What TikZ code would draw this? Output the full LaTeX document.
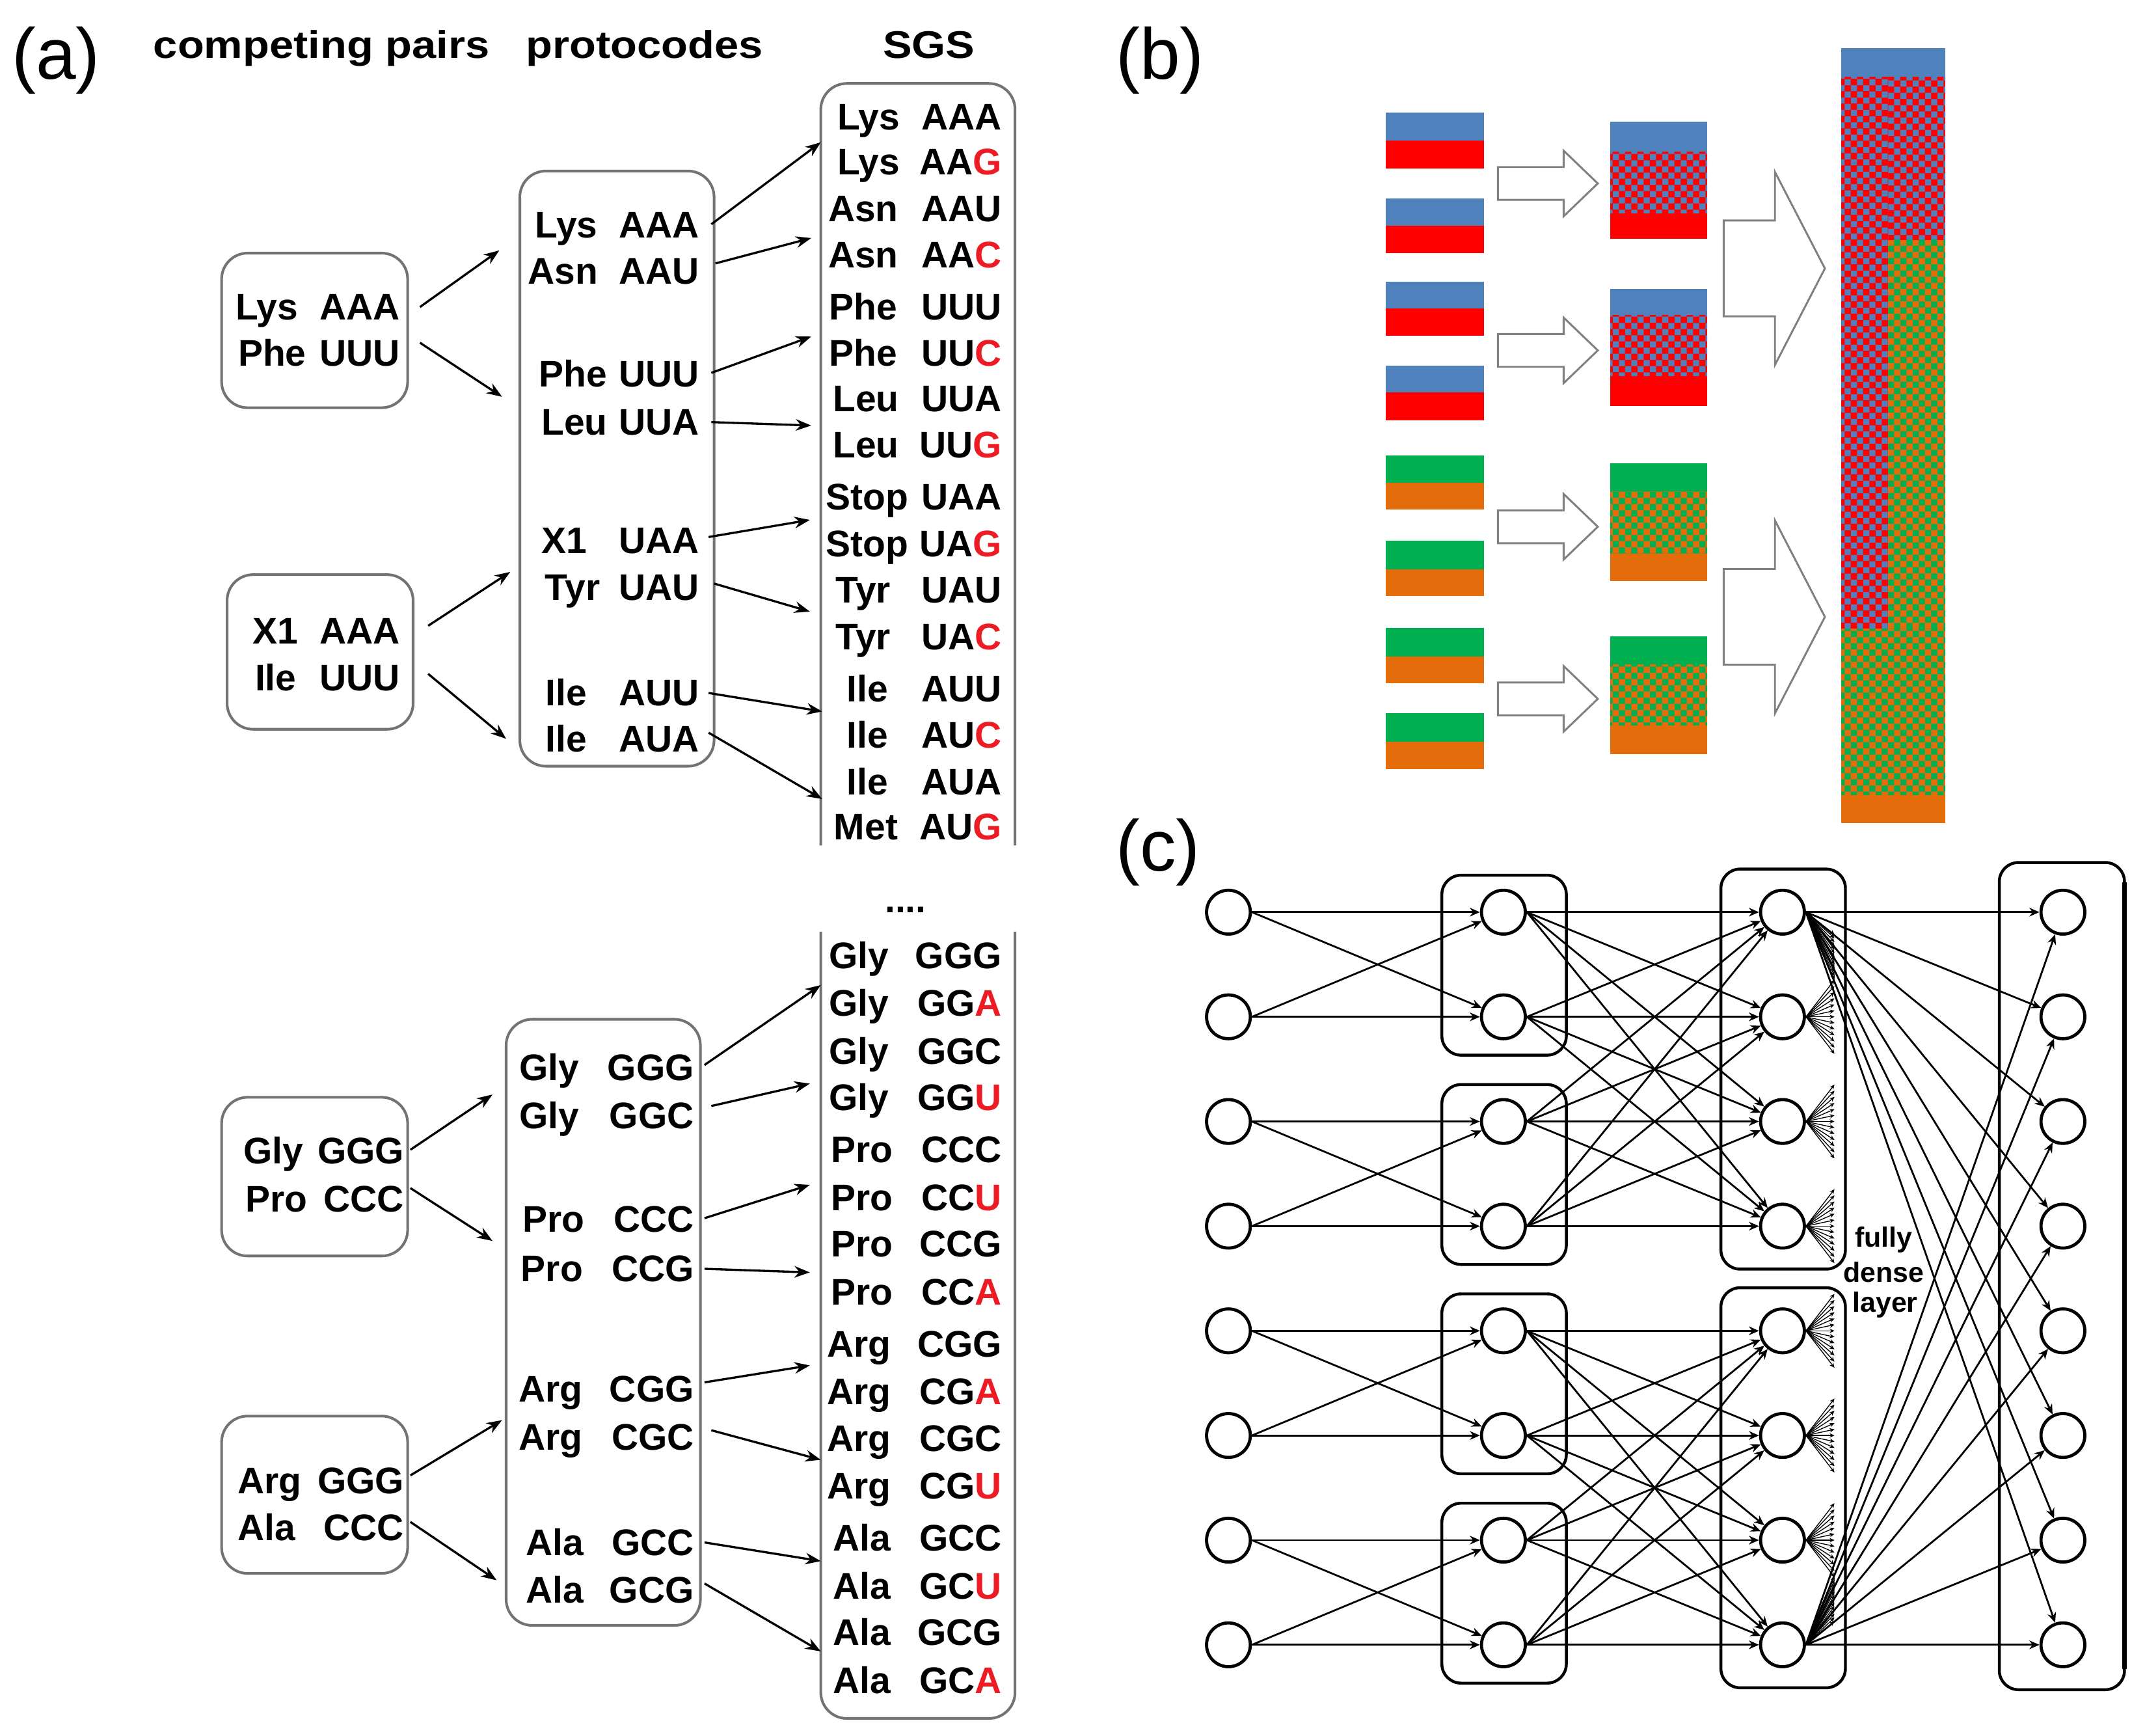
\documentclass[tikz,border=0pt]{standalone}
\usepackage{graphicx}
\usepackage{fontspec}
\setmainfont{Liberation Sans}
\usetikzlibrary{arrows.meta,patterns}
\definecolor{bblue}{RGB}{79,129,189}
\definecolor{bred}{RGB}{255,0,0}
\definecolor{bgreen}{RGB}{0,176,80}
\definecolor{borange}{RGB}{228,108,10}
\definecolor{sred}{RGB}{237,28,36}
\pgfdeclarepatternformonly{fchecker}{\pgfpointorigin}{\pgfqpoint{2.6pt}{2.6pt}}{\pgfqpoint{2.6pt}{2.6pt}}{%
  \pgfpathrectangle{\pgfpointorigin}{\pgfqpoint{1.3pt}{1.3pt}}%
  \pgfpathrectangle{\pgfqpoint{1.3pt}{1.3pt}}{\pgfqpoint{1.3pt}{1.3pt}}%
  \pgfusepath{fill}}
\newcommand{\rd}[1]{\textcolor{sred}{#1}}
\newcommand{\trow}[6]{%
  \node[txt] (#1a) at (#2,#4+9.7) {#5};
  \node[txt,anchor=base east] (#1) at (#3,#4+9.7) {#6};}
\newcommand{\bbar}[5]{%
  \fill[#4] (1013,#1) rectangle (1085,#2);
  \fill[#5] (1013,#2) rectangle (1085,#3);}
\newcommand{\bsq}[6]{%
  \fill[#5] (1177,#1) rectangle (1248,#2);
  \fill[#6] (1177,#2) rectangle (1248,#4);
  \fill[pattern=fchecker,pattern color=#5] (1177,#2) rectangle (1248,#3);}
\newcommand{\sarrow}[1]{\draw[barrow] (1095,#1-12) -- (1143,#1-12) -- (1143,#1-24) -- (1168,#1) -- (1143,#1+24) -- (1143,#1+12) -- (1095,#1+12) -- cycle;}
\newcommand{\bigarrow}[1]{\draw[barrow] (1260,#1-35) -- (1297.5,#1-35) -- (1297.5,#1-70.5) -- (1334,#1) -- (1297.5,#1+70.5) -- (1297.5,#1+35) -- (1260,#1+35) -- cycle;}
\begin{document}
\begin{tikzpicture}[x=0.01cm,y=-0.01cm,
  txt/.style={font=\fontsize{7.7}{9}\selectfont\bfseries, inner sep=0pt, anchor=base},
  hdr/.style={font=\fontsize{8}{10}\selectfont\bfseries, inner sep=0pt, anchor=base},
  lbl/.style={font=\fontsize{15}{18}\selectfont, inner sep=0pt, anchor=base west},
  fdl/.style={font=\fontsize{5.8}{7}\selectfont\bfseries, inner sep=0pt, anchor=base},
  abox/.style={draw=black!55, line width=0.55pt, rounded corners=0.19cm},
  aarr/.style={-{Stealth[length=3.2pt,width=2.4pt]}, line width=0.45pt},
  cbox/.style={draw, line width=0.6pt, rounded corners=0.14cm},
  neur/.style={circle, draw, line width=0.65pt, minimum size=0.32cm, inner sep=0pt, fill=white},
  carr/.style={-{Stealth[length=2.1pt,width=1.8pt]}, line width=0.38pt},
  fanl/.style={-{Stealth[length=1pt,width=0.9pt]}, line width=0.18pt},
  barrow/.style={draw=black!50, fill=white, line width=0.4pt}]
\useasboundingbox (0,0) rectangle (1568,1268.4);

% ---------------- panel labels
\node[lbl] (la) at (8,57.6) {(a)};
\node[lbl] (lb) at (815,57.6) {(b)};
\node[lbl] (lc) at (815,636.6) {(c)};

% ---------------- panel (a) headers
\node[hdr] (h1) at (235,42.4) {\scalebox{1.13}[1]{competing pairs}};
\node[hdr] (h2) at (471,42.4) {\scalebox{1.13}[1]{protocodes}};
\node[hdr] (h3) at (679,42.4) {\scalebox{1.13}[1]{SGS}};

% ---------------- boxes (a)
\draw[abox] (162,185) rectangle (298,298);
\draw[abox] (166,420) rectangle (302,533);
\draw[abox] (162,802) rectangle (298,918);
\draw[abox] (162,1035) rectangle (298,1150);
\draw[abox] (380,125) rectangle (522,560);
\draw[abox] (370,745) rectangle (512,1188);
\draw[abox] (600,618) -- (600,61) -- (742,61) -- (742,618);
\draw[abox] (600,681) -- (600,1256) -- (742,1256) -- (742,681);
\node[txt] (dots) at (662,667) {....};

% competing pairs
\trow{k1}{195}{293}{224}{Lys}{AAA}
\trow{k2}{199}{293}{258}{Phe}{UUU}
\trow{k3}{201.5}{293}{461}{X1}{AAA}
\trow{k4}{201.5}{293}{495}{Ile}{UUU}
\trow{k5}{200}{296}{841}{Gly}{GGG}
\trow{k6}{202}{296}{876}{Pro}{CCC}
\trow{k7}{197}{296}{1082}{Arg}{GGG}
\trow{k8}{195}{296}{1116}{Ala}{CCC}

% protocodes
\trow{p1}{414}{512}{164}{Lys}{AAA}
\trow{p2}{411.5}{512}{198}{Asn}{AAU}
\trow{p3}{419}{512}{273}{Phe}{UUU}
\trow{p4}{420}{512}{308}{Leu}{UUA}
\trow{p5}{412.5}{512}{395}{X1}{UAA}
\trow{p6}{418.5}{512}{429}{Tyr}{UAU}
\trow{p7}{414}{512}{506}{Ile}{AUU}
\trow{p8}{414}{512}{540}{Ile}{AUA}
\trow{p9}{401.5}{508}{780}{Gly}{GGG}
\trow{p10}{401.5}{508}{815}{Gly}{GGC}
\trow{p11}{404.5}{508}{891}{Pro}{CCC}
\trow{p12}{403.5}{508}{927}{Pro}{CCG}
\trow{p13}{402.5}{508}{1015}{Arg}{CGG}
\trow{p14}{402.5}{508}{1050}{Arg}{CGC}
\trow{p15}{405.5}{508}{1127}{Ala}{GCC}
\trow{p16}{405.5}{508}{1162}{Ala}{GCG}

% SGS
\trow{s1}{635}{733}{85}{Lys}{AAA}
\trow{s2}{635}{733}{118}{Lys}{AA\rd{G}}
\trow{s3}{631}{733}{152}{Asn}{AAU}
\trow{s4}{631}{733}{186}{Asn}{AA\rd{C}}
\trow{s5}{631}{733}{224}{Phe}{UUU}
\trow{s6}{631}{733}{258}{Phe}{UU\rd{C}}
\trow{s7}{633}{733}{291}{Leu}{UUA}
\trow{s8}{633}{733}{325}{Leu}{UU\rd{G}}
\trow{s9}{634}{733}{363}{Stop}{UAA}
\trow{s10}{634}{733}{397}{Stop}{UA\rd{G}}
\trow{s11}{631}{733}{431}{Tyr}{UAU}
\trow{s12}{631}{733}{465}{Tyr}{UA\rd{C}}
\trow{s13}{634}{733}{503}{Ile}{AUU}
\trow{s14}{634}{733}{537}{Ile}{AU\rd{C}}
\trow{s15}{634}{733}{571}{Ile}{AUA}
\trow{s16}{633}{733}{604}{Met}{AU\rd{G}}
\trow{s17}{628}{733}{698}{Gly}{GGG}
\trow{s18}{628}{733}{733}{Gly}{GG\rd{A}}
\trow{s19}{628}{733}{768}{Gly}{GGC}
\trow{s20}{628}{733}{802}{Gly}{GG\rd{U}}
\trow{s21}{630}{733}{840}{Pro}{CCC}
\trow{s22}{630}{733}{875}{Pro}{CC\rd{U}}
\trow{s23}{630}{733}{909}{Pro}{CCG}
\trow{s24}{630}{733}{944}{Pro}{CC\rd{A}}
\trow{s25}{628}{733}{982}{Arg}{CGG}
\trow{s26}{628}{733}{1017}{Arg}{CG\rd{A}}
\trow{s27}{628}{733}{1051}{Arg}{CGC}
\trow{s28}{628}{733}{1086}{Arg}{CG\rd{U}}
\trow{s29}{630}{733}{1124}{Ala}{GCC}
\trow{s30}{630}{733}{1159}{Ala}{GC\rd{U}}
\trow{s31}{630}{733}{1193}{Ala}{GCG}
\trow{s32}{630}{733}{1228}{Ala}{GC\rd{A}}

% arrow end coordinates
\coordinate (e1) at (365,183);  \coordinate (e2) at (367,290);
\coordinate (e3) at (373,418);  \coordinate (e4) at (370,540);
\coordinate (e5) at (360,800);  \coordinate (e6) at (360,907);
\coordinate (e7) at (367,1038); \coordinate (e8) at (363,1155);
\coordinate (t1) at (600,104);  \coordinate (t2) at (593,174);
\coordinate (t3) at (593,246);  \coordinate (t4) at (593,311);
\coordinate (t5) at (592,380);  \coordinate (t6) at (592,447);
\coordinate (t7) at (601,520);  \coordinate (t8) at (601,584);
\coordinate (t9) at (600,720);  \coordinate (t10) at (592,792);
\coordinate (t11) at (592,866); \coordinate (t12) at (592,930);
\coordinate (t13) at (592,998); \coordinate (t14) at (600,1067);
\coordinate (t15) at (600,1141);\coordinate (t16) at (600,1207);

\draw[aarr] ([shift={(14,0)}]k1.east) -- (e1);
\draw[aarr] ([shift={(14,-8)}]k2.east) -- (e2);
\draw[aarr] ([shift={(20,-4)}]k3.east) -- (e3);
\draw[aarr] ([shift={(20,-3)}]k4.east) -- (e4);
\draw[aarr] ([shift={(4,-1)}]k5.east) -- (e5);
\draw[aarr] ([shift={(4,-8)}]k6.east) -- (e6);
\draw[aarr] ([shift={(4,-4)}]k7.east) -- (e7);
\draw[aarr] ([shift={(4,-4)}]k8.east) -- (e8);

\draw[aarr] ([shift={(8,-0.5)}]p1.east) -- (t1);
\draw[aarr] ([shift={(11,-6)}]p2.east) -- (t2);
\draw[aarr] ([shift={(8,-1)}]p3.east) -- (t3);
\draw[aarr] ([shift={(8,0)}]p4.east) -- (t4);
\draw[aarr] ([shift={(6,-3)}]p5.east) -- (t5);
\draw[aarr] ([shift={(10,-3)}]p6.east) -- (t6);
\draw[aarr] ([shift={(6,0)}]p7.east) -- (t7);
\draw[aarr] ([shift={(6,-5)}]p8.east) -- (t8);
\draw[aarr] ([shift={(7,-2)}]p9.east) -- (t9);
\draw[aarr] ([shift={(12,-7)}]p10.east) -- (t10);
\draw[aarr] ([shift={(7,-1)}]p11.east) -- (t11);
\draw[aarr] ([shift={(7,0)}]p12.east) -- (t12);
\draw[aarr] ([shift={(7,-5)}]p13.east) -- (t13);
\draw[aarr] ([shift={(12,-5)}]p14.east) -- (t14);
\draw[aarr] ([shift={(7,0)}]p15.east) -- (t15);
\draw[aarr] ([shift={(7,-5)}]p16.east) -- (t16);

% ---------------- panel (b)
\bbar{82.5}{102.6}{123.1}{bblue}{bred}
\bbar{145.1}{164.8}{184.9}{bblue}{bred}
\bbar{205.7}{225.4}{245.5}{bblue}{bred}
\bbar{267.1}{286.8}{307.3}{bblue}{bred}
\bbar{332.7}{352.7}{372.5}{bgreen}{borange}
\bbar{395.2}{416}{435.8}{bgreen}{borange}
\bbar{458.9}{479.7}{499.4}{bgreen}{borange}
\bbar{521.4}{542.2}{562}{bgreen}{borange}

\bsq{89}{111}{155.7}{174.6}{bblue}{bred}
\bsq{211}{230.3}{274.7}{296.7}{bblue}{bred}
\bsq{338.4}{359.2}{404.7}{424.8}{bgreen}{borange}
\bsq{465.3}{485.4}{529.8}{551.4}{bgreen}{borange}

\sarrow{134.1}
\sarrow{256.1}
\sarrow{385}
\sarrow{510.8}
\bigarrow{196.2}
\bigarrow{450.9}

% tall bar
\fill[bblue] (1346,35.2) rectangle (1422,56);
\fill[bred] (1346,56) rectangle (1380.3,459.6);
\fill[bred] (1380.3,56) rectangle (1422,175.4);
\fill[pattern=fchecker,pattern color=bblue] (1346,56) rectangle (1380.3,459.6);
\fill[pattern=fchecker,pattern color=bblue] (1380.3,56) rectangle (1422,175.4);
\fill[borange] (1380.3,175.4) rectangle (1422,459.6);
\fill[borange] (1346,459.6) rectangle (1422,581);
\fill[pattern=fchecker,pattern color=bgreen] (1380.3,175.4) rectangle (1422,459.6);
\fill[pattern=fchecker,pattern color=bgreen] (1346,459.6) rectangle (1422,581);
\fill[borange] (1346,581) rectangle (1422,601.8);

% ---------------- panel (c)
\draw[cbox] (1054,639.7) rectangle (1145,771.2);
\draw[cbox] (1054,792.7) rectangle (1145,924.2);
\draw[cbox] (1054,945.7) rectangle (1145,1077.2);
\draw[cbox] (1054,1098.7) rectangle (1145,1230.2);
\draw[cbox] (1258,635.2) rectangle (1349,927.6);
\draw[cbox] (1258,941.2) rectangle (1349,1233.6);
\draw[cbox] (1461.5,630.4) rectangle (1553,1235);
\draw[line width=0.9pt] (1553,645) -- (1553,1220);

\foreach \k in {1,...,8}{
  \pgfmathsetmacro\yy{666.7+76.5*(\k-1)}
  \node[neur] (a\k) at (898,\yy) {};
  \node[neur] (b\k) at (1099,\yy) {};
  \node[neur] (c\k) at (1303,\yy) {};
  \node[neur] (d\k) at (1508,\yy) {};
}
\foreach \p in {1,3,5,7}{
  \pgfmathtruncatemacro\q{\p+1}
  \draw[carr] (a\p.east) -- (b\p);
  \draw[carr] (a\p.east) -- (b\q);
  \draw[carr] (a\q.east) -- (b\p);
  \draw[carr] (a\q.east) -- (b\q);
}
\foreach \i in {1,...,4}{\foreach \j in {1,...,4}{\draw[carr] (b\i.east) -- (c\j);}}
\foreach \i in {5,...,8}{\foreach \j in {5,...,8}{\draw[carr] (b\i.east) -- (c\j);}}
\foreach \j in {1,...,8}{
  \draw[carr] (c1.east) -- (d\j);
  \draw[carr] (c8.east) -- (d\j);
}
% dense fans
\foreach \k in {2,...,7}{
  \pgfmathsetmacro\yy{666.7+76.5*(\k-1)}
  \foreach \t in {0,...,12}{
    \coordinate (f\k-\t) at (1341,\yy-27+4.5*\t);
    \draw[fanl] (c\k.east) -- (f\k-\t);
  }
}
\foreach \t in {0,...,12}{
  \coordinate (f1-\t) at (1341,683+2.75*\t);
  \draw[fanl] (c1.east) -- (f1-\t);
  \coordinate (f8-\t) at (1341,1152+2.75*\t);
  \draw[fanl] (c8.east) -- (f8-\t);
}
\node[fdl] (fd1) at (1377,911.5) {fully};
\node[fdl] (fd2) at (1377,936.9) {dense};
\node[fdl] (fd3) at (1378,959.1) {layer};
\end{tikzpicture}
\end{document}
